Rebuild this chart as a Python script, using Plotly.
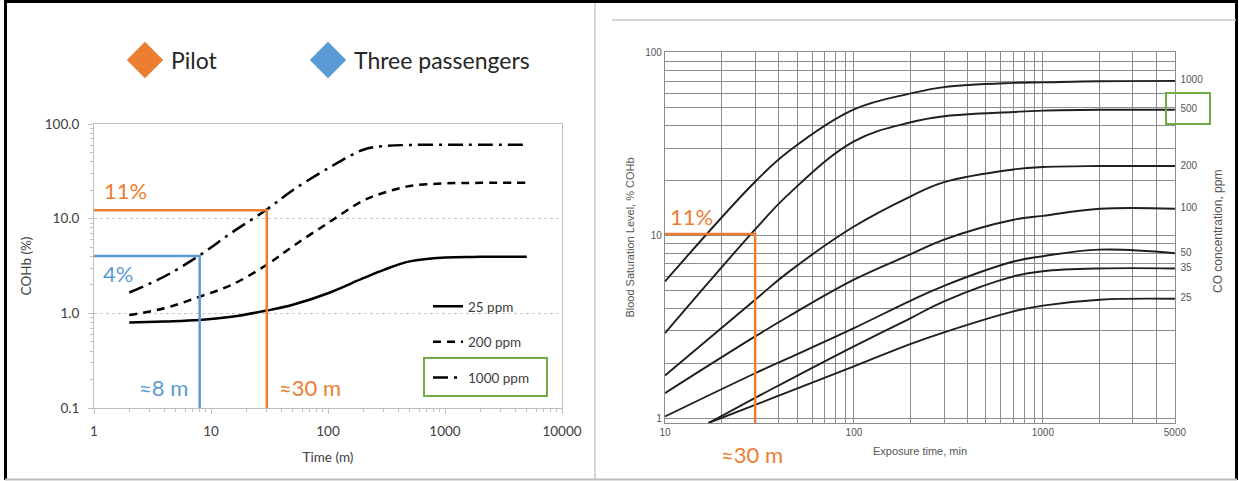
import math
import plotly.graph_objects as go

W, H = 1239, 481

# ---------------- Left chart data (COHb vs time, log-log) ----------------
left_time = [2, 4, 8, 15, 30, 50, 100, 200, 300, 500, 1000, 2000, 5000]
cohb_25 = [0.80, 0.82, 0.85, 0.92, 1.07, 1.23, 1.63, 2.35, 2.88, 3.54, 3.90, 3.95, 3.96]
cohb_200 = [0.96, 1.13, 1.50, 2.00, 3.26, 5.10, 9.00, 15.5, 18.8, 22.1, 23.6, 23.9, 24.0]
cohb_1000 = [1.66, 2.45, 4.10, 7.10, 12.5, 20.0, 34.0, 53.4, 58.5, 60.0, 60.3, 60.3, 60.3]
left_names = ["25 ppm", "200 ppm", "1000 ppm"]
left_dashes = ["solid", "8px,6px", "15px,6px,3px,6px"]

# reference lines (pilot / passengers)
pilot_time, pilot_cohb = 30, 12.3
pax_time, pax_cohb = 8, 4.03
left_xmin, left_ymin = 1, 0.1

left_xticks = [1, 10, 100, 1000, 10000]
left_yticks = [0.1, 1, 10, 100]
left_yticktext = ["0.1", "1.0", "10.0", "100.0"]

key_labels = ["Pilot", "Three passengers"]
ORANGE, BLUE, GREEN = "#ED7D31", "#5B9BD5", "#70AD47"
key_colors = [ORANGE, BLUE]

# ---------------- Right chart data (blood saturation vs exposure) ----------------
right_time = [10, 30, 45, 100, 200, 300, 700, 1000, 2000, 5000]
right_time_low = [17, 30, 45, 100, 200, 300, 700, 1000, 2000, 5000]
sat_1000 = [5.6, 19.7, 28.8, 49.0, 60.0, 65.0, 68.5, 69.0, 70.0, 70.3]
sat_500 = [2.92, 10.8, 16.8, 32.8, 41.7, 45.0, 47.5, 48.3, 48.8, 48.8]
sat_200 = [1.71, 4.45, 6.3, 11.2, 16.4, 19.6, 23.0, 23.7, 24.0, 24.0]
sat_100 = [1.37, 2.80, 3.6, 5.73, 7.9, 9.5, 12.2, 12.8, 14.0, 14.0]
sat_50 = [1.02, 1.76, 2.13, 3.11, 4.4, 5.3, 7.2, 7.7, 8.37, 8.0]
sat_35 = [0.94, 1.29, 1.61, 2.47, 3.53, 4.36, 5.97, 6.37, 6.6, 6.6]
sat_25 = [0.94, 1.18, 1.39, 1.92, 2.55, 2.95, 3.84, 4.13, 4.45, 4.5]
ppm_labels = ["1000", "500", "200", "100", "50", "35", "25"]
right_series = [sat_1000, sat_500, sat_200, sat_100, sat_50, sat_35, sat_25]
right_x = [right_time] * 5 + [right_time_low] * 2

right_pilot_time, right_pilot_sat = 30, 10.2
right_xmin, right_ymin = 10, 0.94
right_xmax = 5000

right_xtickvals = [10, 20, 30, 40, 50, 60, 70, 80, 90, 100, 200, 300, 400, 500, 600,
                   700, 800, 900, 1000, 2000, 3000, 4000, 5000]
right_xlabels = {10: "10", 100: "100", 1000: "1000", 5000: "5000"}
right_ytickvals = [1, 2, 3, 4, 5, 6, 7, 8, 9, 10, 20, 30, 40, 50, 60, 70, 80, 90, 100]
right_ylabels = {1: "1", 10: "10", 100: "100"}


def px(x):
    return x / W


def py(y):
    return 1 - y / H


LFONT = "Lato, Calibri, Open Sans, sans-serif"
RFONT = "Liberation Sans Narrow, Liberation Sans, Arial, sans-serif"
LSIZE = 13.5

fig = go.Figure()

# left curves
for name, vals, dash in zip(left_names, [cohb_25, cohb_200, cohb_1000], left_dashes):
    fig.add_trace(go.Scatter(
        x=left_time, y=vals, name=name, mode="lines", legendgroup=name,
        line=dict(color="black", width=2.5, dash=dash, shape="spline", smoothing=1.0),
        xaxis="x", yaxis="y", hoverinfo="skip"))

# reference lines left
fig.add_trace(go.Scatter(
    x=[left_xmin, pilot_time, pilot_time], y=[pilot_cohb, pilot_cohb, left_ymin],
    mode="lines", line=dict(color=ORANGE, width=2.5), showlegend=False,
    xaxis="x", yaxis="y"))
fig.add_trace(go.Scatter(
    x=[left_xmin, pax_time, pax_time], y=[pax_cohb, pax_cohb, left_ymin],
    mode="lines", line=dict(color=BLUE, width=2.5), showlegend=False,
    xaxis="x", yaxis="y"))

# key diamonds
fig.add_trace(go.Scatter(
    x=list(range(len(key_labels))), y=[0.5] * len(key_labels), mode="markers",
    marker=dict(symbol="diamond", size=28, color=key_colors, line=dict(width=0)),
    showlegend=False, xaxis="x3", yaxis="y3", hoverinfo="skip", cliponaxis=False))

# right curves
for lab, xs, vals in zip(ppm_labels, right_x, right_series):
    fig.add_trace(go.Scatter(
        x=xs, y=vals, mode="lines+text", showlegend=False,
        text=[""] * (len(vals) - 1) + ["  " + lab], textposition="middle right",
        textfont=dict(family=RFONT, size=10, color="#555555"), cliponaxis=False,
        line=dict(color="#1F1F1F", width=1.9, shape="spline", smoothing=1.1),
        xaxis="x2", yaxis="y2", hoverinfo="skip"))

fig.add_trace(go.Scatter(
    x=[right_xmin, right_pilot_time, right_pilot_time],
    y=[right_pilot_sat, right_pilot_sat, right_ymin],
    mode="lines", line=dict(color=ORANGE, width=2.5), showlegend=False,
    xaxis="x2", yaxis="y2"))

ann = []
for i, lab in enumerate(key_labels):
    ann.append(dict(xref="x3", yref="y3", x=i, y=0.5, text=lab, showarrow=False,
                    xanchor="left", yanchor="middle", xshift=24,
                    font=dict(family=LFONT, size=23, color="#262626")))


def text_ann(x, y, t, color, size=22, font=LFONT, angle=0):
    ann.append(dict(xref="paper", yref="paper", x=px(x), y=py(y), text=t, showarrow=False,
                    xanchor="center", yanchor="middle", textangle=angle,
                    font=dict(family=font, size=size, color=color)))


text_ann(125, 190, "11%", ORANGE)
text_ann(118, 273, "4%", BLUE)
text_ann(163, 387, "≈8 m", BLUE)
text_ann(310, 387, "≈30 m", ORANGE)
text_ann(692, 216, "11%", ORANGE)
text_ann(752, 454, "≈30 m", ORANGE)
text_ann(1218, 232, "CO concentration, ppm", "#555555", size=12, font=RFONT, angle=-90)

shapes = [
    # outer frame
    dict(type="line", xref="paper", yref="paper", x0=px(4), x1=px(1238), y0=py(1.5), y1=py(1.5),
         line=dict(color="black", width=3)),
    dict(type="line", xref="paper", yref="paper", x0=px(5.5), x1=px(5.5), y0=py(0), y1=py(480),
         line=dict(color="black", width=3)),
    dict(type="line", xref="paper", yref="paper", x0=px(1236.5), x1=px(1236.5), y0=py(0), y1=py(480),
         line=dict(color="black", width=3)),
    dict(type="line", xref="paper", yref="paper", x0=px(5), x1=px(1237), y0=py(479.5), y1=py(479.5),
         line=dict(color="#BDBDBD", width=2)),
    # panel dividers
    dict(type="line", xref="paper", yref="paper", x0=px(595), x1=px(595), y0=py(3), y1=py(479),
         line=dict(color="#C8C8C8", width=1.5)),
    dict(type="line", xref="paper", yref="paper", x0=px(612), x1=px(1236), y0=py(20), y1=py(20),
         line=dict(color="#C8C8C8", width=1.5)),
    # green highlight boxes
    dict(type="rect", xref="paper", yref="paper", x0=px(424), x1=px(547), y0=py(396), y1=py(358),
         line=dict(color=GREEN, width=2)),
    dict(type="rect", xref="paper", yref="paper", x0=px(1166), x1=px(1210), y0=py(124), y1=py(93),
         line=dict(color=GREEN, width=2)),
]

axis_font = dict(family=LFONT, size=LSIZE, color="#404040")
fig.update_layout(
    width=W, height=H, margin=dict(l=0, r=0, t=0, b=0, pad=0, autoexpand=False),
    paper_bgcolor="white", plot_bgcolor="white",
    showlegend=True,
    legend=dict(x=px(428), y=py(291), xanchor="left", yanchor="top",
                bgcolor="rgba(0,0,0,0)", tracegroupgap=15,
                font=dict(family=LFONT, size=LSIZE, color="#404040")),
    xaxis=dict(type="log", domain=[px(94), px(562)], range=[0, 4], automargin=False,
               tickvals=left_xticks, ticktext=[str(v) for v in left_xticks],
               ticks="outside", ticklen=5, tickcolor="#BFBFBF",
               showline=True, linecolor="#BFBFBF", linewidth=1, mirror=True,
               showgrid=False, zeroline=False,
               minor=dict(ticks="outside", ticklen=3, tickcolor="#BFBFBF", dtick="D1", showgrid=False),
               tickfont=axis_font, ticklabelstandoff=6,
               title=dict(text="Time (m)", standoff=14, font=axis_font),
               anchor="y"),
    yaxis=dict(type="log", domain=[py(408), py(124)], range=[-1, 2], automargin=False,
               tickvals=left_yticks, ticktext=left_yticktext,
               ticks="outside", ticklen=5, tickcolor="#BFBFBF",
               showline=True, linecolor="#BFBFBF", linewidth=1, mirror=True,
               showgrid=True, gridcolor="#C8C8C8", griddash="dot", gridwidth=1, zeroline=False,
               minor=dict(ticks="outside", ticklen=3, tickcolor="#BFBFBF", dtick="D1", showgrid=False),
               tickfont=axis_font, ticklabelstandoff=6,
               title=dict(text="COHb (%)", standoff=10, font=axis_font),
               anchor="x"),
    xaxis2=dict(type="log", domain=[px(665), px(1175)], automargin=False,
                range=[1, math.log10(right_xmax) + 0.0005],
                tickvals=right_xtickvals,
                ticktext=[right_xlabels.get(v, "") for v in right_xtickvals],
                ticks="", showline=True, linecolor="#8C8C8C", linewidth=1.2, mirror=True,
                showgrid=True, gridcolor="#8C8C8C", gridwidth=1.2, zeroline=False,
                tickfont=dict(family=RFONT, size=10, color="#555555"),
                title=dict(text="Exposure time, min", standoff=10,
                           font=dict(family=RFONT, size=11, color="#555555")),
                anchor="y2"),
    yaxis2=dict(type="log", domain=[py(423), py(52)], range=[-0.027, 2.005], automargin=False,
                tickvals=right_ytickvals,
                ticktext=[right_ylabels.get(v, "") for v in right_ytickvals],
                ticks="", showline=True, linecolor="#8C8C8C", linewidth=1.2, mirror=True,
                showgrid=True, gridcolor="#8C8C8C", gridwidth=1.2, zeroline=False,
                tickfont=dict(family=RFONT, size=10, color="#555555"),
                title=dict(text="Blood Saturation Level, % COHb", standoff=8,
                           font=dict(family=RFONT, size=11, color="#555555")),
                anchor="x2"),
    xaxis3=dict(domain=[0, px(590)], range=[-145 / 183, -145 / 183 + 590 / 183],
                visible=False, fixedrange=True, anchor="y3", automargin=False),
    yaxis3=dict(domain=[py(80), py(40)], range=[0, 1], visible=False, fixedrange=True,
                anchor="x3", automargin=False),
    annotations=ann,
    shapes=shapes,
)

fig.write_html(
    "out.html",
    config={"displayModeBar": False},
    post_script="document.body.style.margin='0px';document.body.style.overflow='hidden';",
)
